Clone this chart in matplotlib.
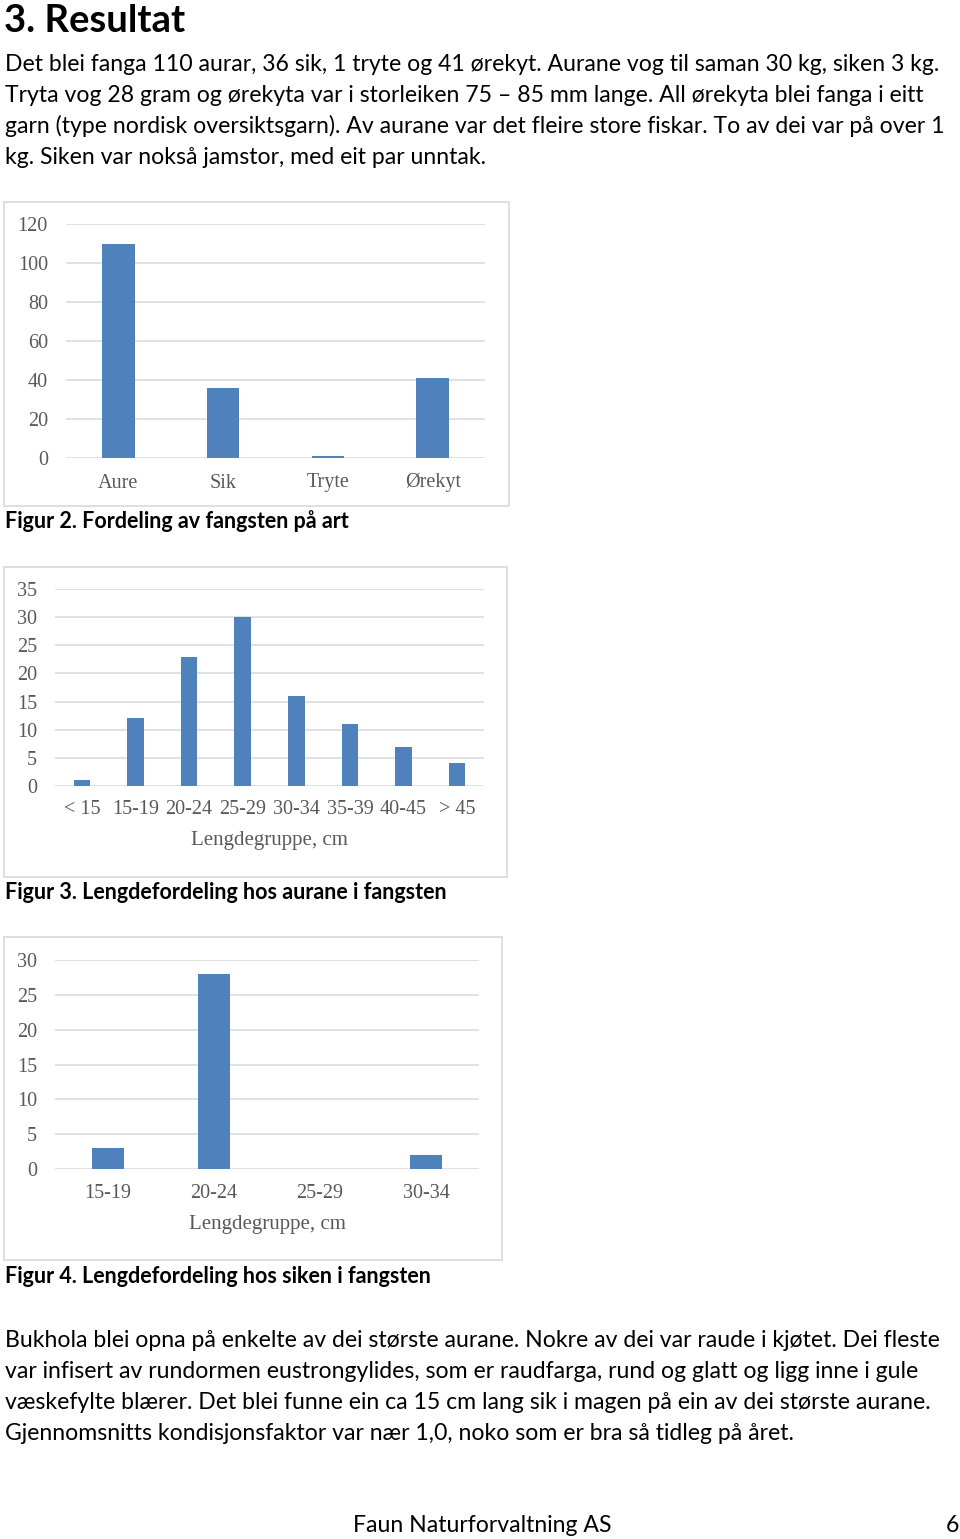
import matplotlib
matplotlib.use('Agg')
import matplotlib.pyplot as plt
from matplotlib.patches import Rectangle
from matplotlib.transforms import blended_transform_factory

W, H = 960, 1539

# data
arter = ['Aure', 'Sik', 'Tryte', 'Ørekyt']
antal_art = [110, 36, 1, 41]

grupper_aure = ['< 15', '15-19', '20-24', '25-29', '30-34', '35-39', '40-45', '> 45']
antal_aure = [1, 12, 23, 30, 16, 11, 7, 4]

grupper_sik = ['15-19', '20-24', '25-29', '30-34']
antal_sik = [3, 28, 0, 2]

tekst_topp = [
    'Det blei fanga 110 aurar, 36 sik, 1 tryte og 41 ørekyt. Aurane vog til saman 30 kg, siken 3 kg.',
    'Tryta vog 28 gram og ørekyta var i storleiken 75 – 85 mm lange. All ørekyta blei fanga i eitt',
    'garn (type nordisk oversiktsgarn). Av aurane var det fleire store fiskar. To av dei var på over 1',
    'kg. Siken var nokså jamstor, med eit par unntak.',
]
tekst_botn = [
    'Bukhola blei opna på enkelte av dei største aurane. Nokre av dei var raude i kjøtet. Dei fleste',
    'var infisert av rundormen eustrongylides, som er raudfarga, rund og glatt og ligg inne i gule',
    'væskefylte blærer. Det blei funne ein ca 15 cm lang sik i magen på ein av dei største aurane.',
    'Gjennomsnitts kondisjonsfaktor var nær 1,0, noko som er bra så tidleg på året.',
]

BAR = '#4F81BD'
GRID = '#D9D9D9'
TXT = '#595959'
SERIF = 'Liberation Serif'
SANS = 'Lato'

fig = plt.figure(figsize=(W / 100, H / 100), dpi=100)


def fx(x):
    return x / W


def fy(y):
    return 1 - y / H


def chart(box, plot, cats, vals, ymax, step, lab_y, xlabel=None, xlab_y=None):
    bx0, by0, bx1, by1 = box
    fig.patches.append(Rectangle((fx(bx0), fy(by1)), (bx1 - bx0) / W, (by1 - by0) / H,
                                 transform=fig.transFigure, fill=False,
                                 edgecolor=GRID, linewidth=1.2))
    x0, y0, x1, y1 = plot
    ax = fig.add_axes([fx(x0), fy(y1), (x1 - x0) / W, (y1 - y0) / H])
    ax.bar(range(len(cats)), vals, width=0.31, color=BAR, zorder=3)
    ax.set_xlim(-0.5, len(cats) - 0.5)
    ax.set_ylim(0, ymax)
    ax.set_yticks(range(0, ymax + 1, step))
    ax.yaxis.grid(True, color=GRID, linewidth=1.1, zorder=0)
    for s in ax.spines.values():
        s.set_visible(False)
    ax.tick_params(length=0, labelsize=14.5, labelcolor=TXT, pad=13)
    for t in ax.get_yticklabels():
        t.set_fontfamily(SERIF)
    ax.set_xticks([])
    ax.set_facecolor('none')
    tr = blended_transform_factory(ax.transData, fig.transFigure)
    for i, c in enumerate(cats):
        ax.text(i, fy(lab_y), c, transform=tr, ha='center', va='center',
                fontsize=14.5, color=TXT, family=SERIF)
    if xlabel:
        fig.text(fx((x0 + x1) / 2), fy(xlab_y), xlabel, ha='center', va='center',
                 fontsize=15, color=TXT, family=SERIF)
    return ax


# heading
fig.text(fx(4), fy(32), '3. Resultat', fontsize=27.5, fontweight='bold', family=SANS,
         ha='left', va='baseline', color='black')

# body text
tt = []
for i, line in enumerate(tekst_topp):
    tt.append(fig.text(fx(5), fy(71 + i * 31), line, fontsize=16, family=SANS,
                       ha='left', va='baseline', color='black'))
tb = []
for i, line in enumerate(tekst_botn):
    tb.append(fig.text(fx(5), fy(1347 + i * 31), line, fontsize=16, family=SANS,
                       ha='left', va='baseline', color='black'))

# fit body font size to the page width
r = fig.canvas.get_renderer()
w = tt[0].get_window_extent(r).width
fs = 16 * 940 / w
for t in tt + tb:
    t.set_fontsize(fs)

chart((4, 202, 509, 506), (66, 224, 485, 458), arter, antal_art, 120, 20, lab_y=483)
chart((4, 567, 507, 877), (55, 589, 484, 786), grupper_aure, antal_aure, 35, 5,
      lab_y=810, xlabel='Lengdegruppe, cm', xlab_y=840)
chart((4, 937, 502, 1260), (55, 960, 479, 1169), grupper_sik, antal_sik, 30, 5,
      lab_y=1193, xlabel='Lengdegruppe, cm', xlab_y=1224)

cap = dict(fontsize=15.5, fontweight='bold', family=SANS, ha='left', va='baseline', color='black')
fig.text(fx(5), fy(528), 'Figur 2. Fordeling av fangsten på art', **cap)
fig.text(fx(5), fy(899), 'Figur 3. Lengdefordeling hos aurane i fangsten', **cap)
fig.text(fx(5), fy(1283), 'Figur 4. Lengdefordeling hos siken i fangsten', **cap)

fig.text(fx(482), fy(1532), 'Faun Naturforvaltning AS', fontsize=fs, family=SANS,
         ha='center', va='baseline', color='black')
fig.text(fx(959), fy(1532), '6', fontsize=fs, family=SANS, ha='right', va='baseline', color='black')

fig.savefig('out.png', dpi=100, facecolor='white')
